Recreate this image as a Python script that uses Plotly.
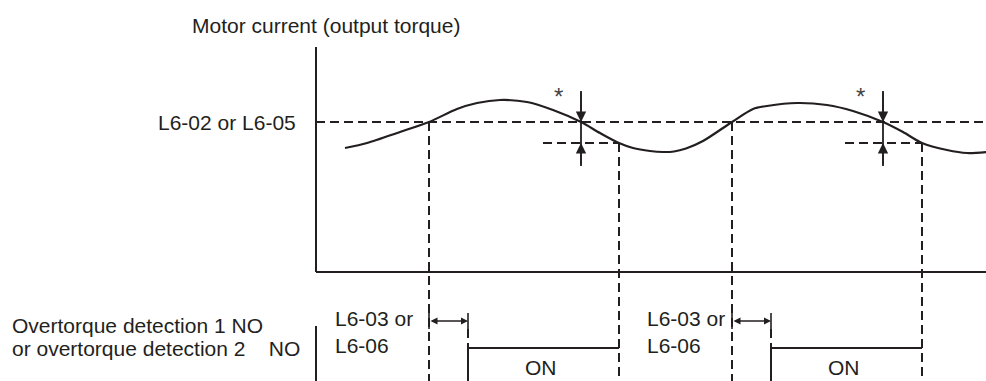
import plotly.graph_objects as go

# ---- data (time: arbitrary units, 0 = current axis; current: arbitrary units, 0 = time axis) ----
curve_t = [29, 51, 84, 113, 141, 161, 184, 211, 237, 265, 284, 303, 317, 334, 347,
           358, 370, 387, 416, 437, 451, 481, 511, 537, 567, 587, 606, 631, 651, 671]
curve_i = [124, 129, 140, 150, 163, 169, 172, 170, 162, 150, 139, 129, 124, 121, 120,
           120.5, 123.5, 131, 150, 163, 166, 169, 167, 161, 150, 140, 129, 122, 119, 120]

threshold = 150          # L6-02 or L6-05
reset_level = 129        # threshold minus hysteresis (*)
detect_t = [113, 416]    # current rises above threshold
fall_t = [265, 567]      # current falls back through threshold
reset_t = [303, 606]     # current below reset level -> output OFF
delay = 39               # L6-03 or L6-06
on_t = [t + delay for t in detect_t]

axis_top = 225
time_end = 680
signal_axis_top = -54
on_level = -76
off_level = -140
view_t = [-316, 670]
view_i = [-109, 272]

title_text = "Motor current (output torque)"
threshold_label = "L6-02 or L6-05"
signal_label_1 = "Overtorque detection 1 NO"
signal_label_2 = "or overtorque detection 2\u00a0\u00a0\u00a0\u00a0NO"
delay_label = "L6-03 or<br>L6-06"

INK = "#231f20"
FONT = "Liberation Sans, Arial, sans-serif"
DASH = "9px,5px"

fig = go.Figure()


def seg(xs, ys, dash="solid", width=2.0):
    fig.add_trace(go.Scatter(x=xs, y=ys, mode="lines",
                             line=dict(color=INK, width=width, dash=dash),
                             hoverinfo="skip", showlegend=False))


# axes
seg([0, 0], [axis_top, 0])
seg([0, time_end], [0, 0])
seg([0, 0], [signal_axis_top, view_i[0] - 10])

# threshold line
seg([0, time_end], [threshold, threshold], dash=DASH)

# motor current curve
fig.add_trace(go.Scatter(x=curve_t, y=curve_i, mode="lines",
                         line=dict(color=INK, width=2.2, shape="spline", smoothing=0.8),
                         hoverinfo="skip", showlegend=False))

for k in range(2):
    # vertical dashed event lines
    seg([detect_t[k], detect_t[k]], [threshold, view_i[0] - 10], dash=DASH)
    seg([reset_t[k], reset_t[k]], [reset_level, view_i[0] - 10], dash=DASH)
    # hysteresis level
    seg([fall_t[k] - 38, reset_t[k]], [reset_level, reset_level], dash=DASH)
    # hysteresis arrows line
    seg([fall_t[k], fall_t[k]], [181, 106], width=1.8)
    fig.add_annotation(x=fall_t[k], y=threshold, ax=fall_t[k], ay=181,
                       xref="x", yref="y", axref="x", ayref="y", text="",
                       showarrow=True, arrowhead=2, arrowsize=1.3, arrowwidth=1.6,
                       arrowcolor=INK)
    fig.add_annotation(x=fall_t[k], y=reset_level, ax=fall_t[k], ay=106,
                       xref="x", yref="y", axref="x", ayref="y", text="",
                       showarrow=True, arrowhead=2, arrowsize=1.3, arrowwidth=1.6,
                       arrowcolor=INK)
    fig.add_annotation(x=fall_t[k] - 23, y=176, text="*", showarrow=False,
                       font=dict(family=FONT, size=24, color="#444"))
    # delay arrow
    fig.add_annotation(x=on_t[k], y=-49, ax=detect_t[k], ay=-49,
                       xref="x", yref="y", axref="x", ayref="y", text="",
                       showarrow=True, arrowhead=2, startarrowhead=2,
                       arrowside="end+start", arrowsize=1, startarrowsize=1,
                       arrowwidth=1.4, arrowcolor=INK)
    seg([detect_t[k], detect_t[k]], [-41, -57], width=1.6)
    seg([on_t[k], on_t[k]], [-41, -57], width=1.6)
    seg([on_t[k], on_t[k]], [-57, on_level], dash=DASH)
    # output ON signal
    seg([on_t[k], on_t[k], reset_t[k]], [off_level, on_level, on_level])
    fig.add_annotation(x=(on_t[k] + reset_t[k]) / 2 - 3, y=-95, text="ON", showarrow=False,
                       font=dict(family=FONT, size=21, color=INK))
    fig.add_annotation(x=[17, 329][k], y=-60, text=delay_label, showarrow=False,
                       xanchor="left", align="left",
                       font=dict(family=FONT, size=21, color=INK))

# labels
fig.add_annotation(x=-126, y=247, text=title_text, showarrow=False, xanchor="left",
                   font=dict(family=FONT, size=21, color=INK))
fig.add_annotation(x=-18, y=threshold, text=threshold_label, showarrow=False,
                   xanchor="right", font=dict(family=FONT, size=21, color=INK))
fig.add_annotation(x=-306, y=-53, text=signal_label_1, showarrow=False, xanchor="left",
                   font=dict(family=FONT, size=21, color=INK))
fig.add_annotation(x=-306, y=-76, text=signal_label_2, showarrow=False, xanchor="left",
                   font=dict(family=FONT, size=21, color=INK))

fig.update_layout(width=986, height=381, autosize=False,
                  margin=dict(l=0, r=0, t=0, b=0),
                  paper_bgcolor="white", plot_bgcolor="white",
                  showlegend=False,
                  xaxis=dict(range=view_t, visible=False, fixedrange=True),
                  yaxis=dict(range=view_i, visible=False, fixedrange=True))

fig.write_html("out.html", config={"displayModeBar": False},
               post_script="document.body.style.margin='0';"
                           "document.body.style.overflow='hidden';")
